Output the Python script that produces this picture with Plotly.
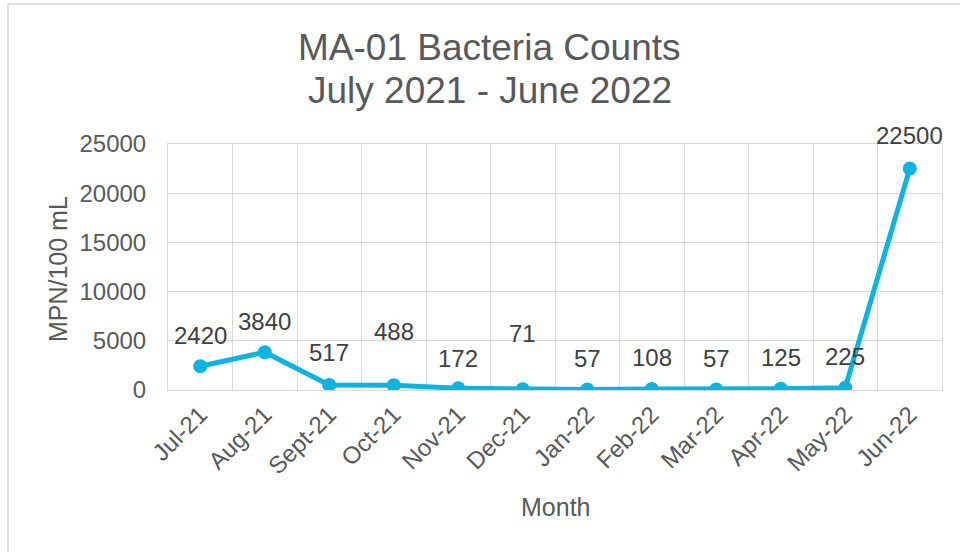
import plotly.graph_objects as go

# Monthly MPN counts at station MA-01
months = ["Jul-21", "Aug-21", "Sept-21", "Oct-21", "Nov-21", "Dec-21",
          "Jan-22", "Feb-22", "Mar-22", "Apr-22", "May-22", "Jun-22"]
counts = [2420, 3840, 517, 488, 172, 71, 57, 108, 57, 125, 225, 22500]
y_ticks = [0, 5000, 10000, 15000, 20000, 25000]

FONT = "Liberation Sans, Arial, sans-serif"
GREY = "#595959"
DARK = "#404040"
GRID = "#D9D9D9"
LINE = "#0DB3E1"

# how far (px) each value label sits above its marker
label_lift = [31, 31, 32, 54, 30, 56, 31, 31, 31, 31, 31, 33]

fig = go.Figure(go.Scatter(
    x=months, y=counts, mode="lines+markers",
    line=dict(color=LINE, width=5),
    marker=dict(color=LINE, size=14),
    hoverinfo="x+y",
))

annotations = []
for m, v, lift in zip(months, counts, label_lift):
    annotations.append(dict(
        x=m, y=v, xref="x", yref="y", text=str(v), showarrow=False,
        yshift=lift, yanchor="middle", xanchor="center",
        font=dict(family=FONT, size=24, color=DARK),
    ))

# chart title (two lines) and axis titles
annotations += [
    dict(x=0.416, y=1.394, xref="paper", yref="paper", text="MA-01 Bacteria Counts",
         showarrow=False, xanchor="center", yanchor="middle",
         font=dict(family=FONT, size=37, color=GREY)),
    dict(x=0.416, y=1.2195, xref="paper", yref="paper", text="July 2021 - June 2022",
         showarrow=False, xanchor="center", yanchor="middle",
         font=dict(family=FONT, size=37, color=GREY)),
    dict(x=-0.142, y=0.492, xref="paper", yref="paper", text="MPN/100 mL",
         showarrow=False, textangle=-90, xanchor="center", yanchor="middle",
         font=dict(family=FONT, size=25, color=GREY)),
    dict(x=0.5, y=-0.4756, xref="paper", yref="paper", text="Month",
         showarrow=False, xanchor="center", yanchor="middle",
         font=dict(family=FONT, size=25, color=GREY)),
]

fig.update_layout(
    width=960, height=552,
    margin=dict(l=168, r=18, t=144, b=162),
    paper_bgcolor="white", plot_bgcolor="white",
    showlegend=False,
    annotations=annotations,
    shapes=[dict(type="rect", xref="paper", yref="paper",
                 x0=(8 - 168) / 774, x1=(975 - 168) / 774,
                 y0=(390 - 575) / 246, y1=(390 - 4) / 246,
                 line=dict(color=GRID, width=1.5), layer="below")],
)

fig.update_xaxes(
    type="category", tickson="boundaries", range=[-0.5, len(months) - 0.5],
    showgrid=True, gridcolor=GRID, gridwidth=1,
    showline=True, linecolor=GRID, linewidth=1, mirror=True,
    ticks="outside", ticklen=20, tickcolor="rgba(0,0,0,0)",
    tickangle=-45,
    tickfont=dict(family=FONT, size=24, color=GREY),
)
fig.update_yaxes(
    range=[0, 25000], tickvals=y_ticks, ticktext=[str(t) for t in y_ticks],
    showgrid=True, gridcolor=GRID, gridwidth=1,
    zeroline=False, showline=True, linecolor=GRID, linewidth=1, mirror=True,
    ticks="outside", ticklen=16, tickcolor="rgba(0,0,0,0)",
    tickfont=dict(family=FONT, size=24, color=GREY),
)

fig.write_html("out.html")
